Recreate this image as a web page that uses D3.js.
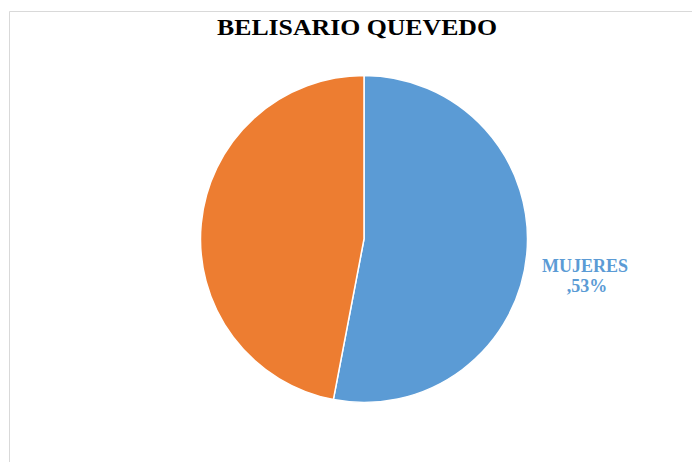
<!DOCTYPE html>
<html>
<head>
<meta charset="utf-8">
<script src="https://cdn.jsdelivr.net/npm/d3@7"></script>
<style>
    body { margin: 0; background: #fff; }
    svg { display: block; }
</style>
</head>
<body>
<div id="chart"></div>
<script>
// data
const categories = ["MUJERES", "HOMBRES"];
const values = [53, 47];
const labels = [",53%", null];
const colors = ["#5B9BD5", "#ED7D31"];

const width = 692, height = 462;

const svg = d3.select("#chart")
    .append("svg")
    .attr("width", width)
    .attr("height", height);

// frame (only top and left edges visible)
svg.append("path")
    .attr("d", `M9.5,${height} V11.5 H${width}`)
    .attr("fill", "none")
    .attr("stroke", "#d9d9d9")
    .attr("stroke-width", 1);

// title
svg.append("text")
    .attr("x", 357)
    .attr("y", 35)
    .attr("text-anchor", "middle")
    .attr("font-family", "'Liberation Serif', 'Times New Roman', serif")
    .attr("font-weight", "bold")
    .attr("font-size", 24)
    .attr("textLength", 280)
    .attr("lengthAdjust", "spacingAndGlyphs")
    .attr("fill", "#000")
    .text("BELISARIO QUEVEDO");

// pie
const cx = 364, cy = 239, r = 163.5;
const data = categories.map((c, i) => ({ cat: c, value: values[i], label: labels[i], color: colors[i] }));

const pie = d3.pie()
    .sort(null)
    .value(d => d.value);

const arc = d3.arc()
    .innerRadius(0)
    .outerRadius(r);

const g = svg.append("g")
    .attr("transform", `translate(${cx},${cy})`);

g.selectAll("path")
    .data(pie(data))
    .join("path")
    .attr("d", arc)
    .attr("fill", d => d.data.color)
    .attr("stroke", "#fff")
    .attr("stroke-width", 1.5);

// label for MUJERES, outside right
const lab = svg.append("text")
    .attr("text-anchor", "middle")
    .attr("font-family", "'Liberation Serif', 'Times New Roman', serif")
    .attr("font-weight", "bold")
    .attr("font-size", 18)
    .attr("fill", colors[0]);

lab.append("tspan").attr("x", 585).attr("y", 272).text(categories[0]);
lab.append("tspan").attr("x", 587).attr("y", 292).text(labels[0]);
</script>
</body>
</html>
